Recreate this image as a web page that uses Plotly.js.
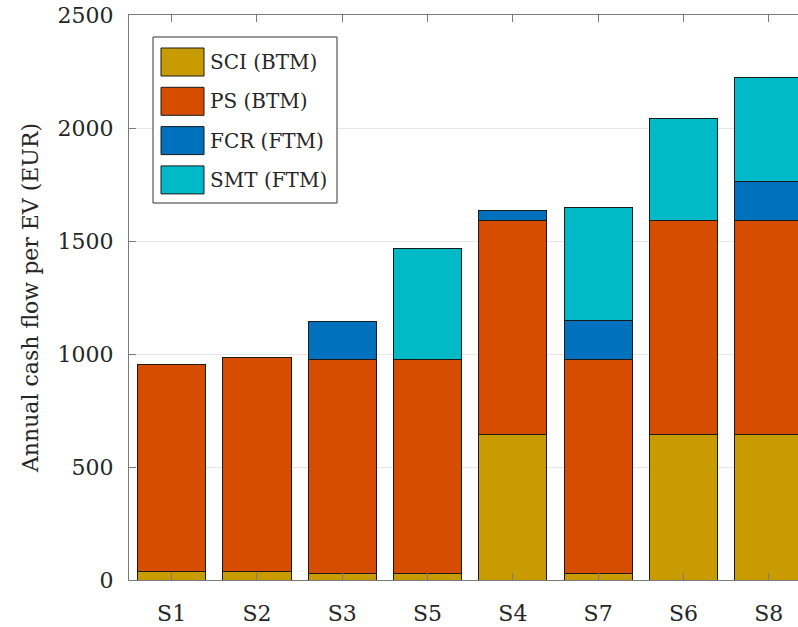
<!DOCTYPE html>
<html>
<head>
<meta charset="utf-8">
<script src="https://cdn.plot.ly/plotly-3.0.1.min.js"></script>
<style>
  html, body { margin: 0; padding: 0; background: #fff; }
  #chart { width: 798px; height: 627px; }
</style>
</head>
<body>
<div id="chart"></div>
<script>
// Scenarios in the order they are shown
const categories = ['S1', 'S2', 'S3', 'S5', 'S4', 'S7', 'S6', 'S8'];

// Annual cash flow per EV (EUR) for each revenue stream
const sciBTM = [37, 37, 27, 27, 643, 27, 643, 643];
const psBTM  = [917, 948, 949, 949, 948, 949, 948, 948];
const fcrFTM = [0, 0, 169, 0, 45, 174, 0, 172];
const smtFTM = [0, 0, 0, 492, 0, 498, 451, 460];

const seriesNames  = ['SCI (BTM)', 'PS (BTM)', 'FCR (FTM)', 'SMT (FTM)'];
const seriesValues = [sciBTM, psBTM, fcrFTM, smtFTM];
const seriesColors = ['#C89B00', '#D64D00', '#0072BD', '#00BAC8'];

const yTicks = [0, 500, 1000, 1500, 2000, 2500];

const FONT = 'DejaVu Serif, serif';
const TEXT = '#262626';

const W = 798, H = 627;
const M = { l: 129, r: 0, t: 15, b: 47 };
const plotW = W - M.l - M.r, plotH = H - M.t - M.b;

// pixel -> paper helpers for the legend block
const px = x => (x - M.l) / plotW;
const py = y => (H - M.b - y) / plotH;

const traces = seriesNames.map((name, i) => ({
  type: 'bar',
  name: name,
  x: categories,
  y: seriesValues[i],
  marker: { color: seriesColors[i], line: { color: '#1a1a1a', width: 1 } },
  showlegend: false,
  hoverinfo: 'x+y+name'
}));

// Legend drawn as a boxed list in the upper left of the plot
const shapes = [{
  type: 'rect', xref: 'paper', yref: 'paper',
  x0: px(153), x1: px(337), y0: py(203), y1: py(37),
  fillcolor: '#ffffff', line: { color: '#333333', width: 1 }, layer: 'above'
}];
const annotations = [];
const rowTop = 48, rowStep = 39.3, swH = 28;
seriesNames.forEach((name, i) => {
  const top = rowTop + i * rowStep;
  shapes.push({
    type: 'rect', xref: 'paper', yref: 'paper',
    x0: px(161), x1: px(204), y0: py(top + swH), y1: py(top),
    fillcolor: seriesColors[i], line: { color: '#1a1a1a', width: 1 }, layer: 'above'
  });
  annotations.push({
    xref: 'paper', yref: 'paper', x: px(208), y: py(top + swH / 2),
    xanchor: 'left', yanchor: 'middle', showarrow: false,
    text: name, font: { family: FONT, size: 20, color: TEXT }
  });
});

const layout = {
  width: W, height: H,
  margin: M,
  paper_bgcolor: '#ffffff', plot_bgcolor: '#ffffff',
  barmode: 'stack',
  bargap: 0.2,
  showlegend: false,
  font: { family: FONT, size: 22, color: TEXT },
  xaxis: {
    type: 'category',
    range: [-0.5, -0.5 + plotW / 85.3],
    showline: true, linecolor: '#7a7a7a', linewidth: 1,
    mirror: 'ticks',
    ticks: 'inside', ticklen: 7, tickcolor: '#7a7a7a',
    showgrid: false, zeroline: false,
    tickfont: { family: FONT, size: 22, color: TEXT },
    ticklabelstandoff: 14
  },
  yaxis: {
    range: [0, 2500],
    tickvals: yTicks,
    showline: true, linecolor: '#7a7a7a', linewidth: 1,
    ticks: 'inside', ticklen: 7, tickcolor: '#7a7a7a',
    showgrid: true, gridcolor: '#e6e6e6', gridwidth: 1,
    zeroline: false,
    tickfont: { family: FONT, size: 22, color: TEXT },
    ticklabelstandoff: 10,
    title: { text: 'Annual cash flow per EV (EUR)', font: { family: FONT, size: 22, color: TEXT }, standoff: 12 }
  },
  shapes: shapes,
  annotations: annotations
};

Plotly.newPlot('chart', traces, layout, { displayModeBar: false, staticPlot: true });
</script>
</body>
</html>
